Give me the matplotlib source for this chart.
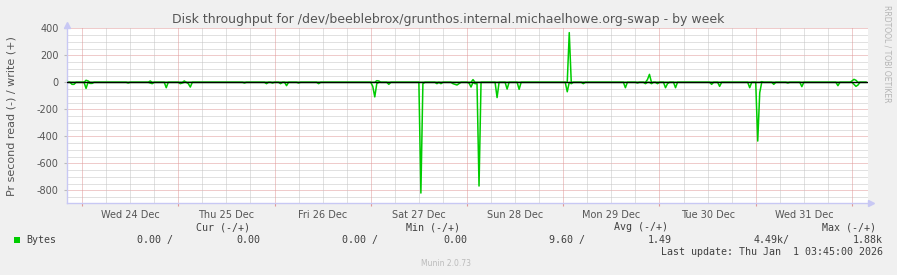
import numpy as np
import pandas as pd
import matplotlib
matplotlib.use('Agg')
import matplotlib.pyplot as plt
import matplotlib.transforms as mtrans
from matplotlib.patches import Rectangle

# read side (plotted negative), 30 min samples, bytes/s
read_times = ['2025-12-23 21:30', '2025-12-23 22:00',
              '2025-12-24 01:00', '2025-12-24 02:00', '2025-12-24 02:30', '2025-12-24 11:30',
              '2025-12-24 17:00', '2025-12-24 17:30', '2025-12-24 21:00',
              '2025-12-25 00:30', '2025-12-25 01:00', '2025-12-25 02:30', '2025-12-25 03:00',
              '2025-12-25 16:30', '2025-12-25 22:00', '2025-12-25 23:30',
              '2025-12-26 01:30', '2025-12-26 03:00', '2025-12-26 06:00', '2025-12-26 11:00',
              '2025-12-27 00:30', '2025-12-27 01:00', '2025-12-27 01:30', '2025-12-27 04:30',
              '2025-12-27 12:30', '2025-12-27 13:00', '2025-12-27 16:30', '2025-12-27 17:30',
              '2025-12-27 20:30', '2025-12-27 21:00', '2025-12-27 21:30', '2025-12-27 22:00',
              '2025-12-28 00:30', '2025-12-28 01:00', '2025-12-28 02:00', '2025-12-28 02:30',
              '2025-12-28 03:00', '2025-12-28 07:30', '2025-12-28 10:00', '2025-12-28 13:00',
              '2025-12-29 01:00', '2025-12-29 02:00', '2025-12-29 05:00', '2025-12-29 15:30',
              '2025-12-29 18:30', '2025-12-29 20:30', '2025-12-29 22:00', '2025-12-29 23:30',
              '2025-12-30 01:30', '2025-12-30 02:00', '2025-12-30 04:00', '2025-12-30 13:00',
              '2025-12-30 15:00', '2025-12-30 22:30',
              '2025-12-31 00:30', '2025-12-31 01:00', '2025-12-31 04:30', '2025-12-31 08:00',
              '2025-12-31 11:30', '2025-12-31 20:30',
              '2026-01-01 00:30', '2026-01-01 01:00', '2026-01-01 01:30']
read_vals = [15, 15,
             45, 8, 8, 5,
             5, 10, 40,
             10, 5, 10, 35,
             5, 10, 5,
             10, 25, 5, 10,
             30, 108, 10, 15,
             820, 10, 10, 10,
             10, 15, 20, 10,
             5, 35, 10, 10,
             768, 113, 50, 52,
             70, 10, 10, 40,
             5, 10, 10, 10,
             40, 10, 40, 15,
             30, 40,
             435, 77, 15, 5,
             32, 25,
             15, 30, 20]

# write side (plotted positive)
write_times = ['2025-12-24 01:00', '2025-12-24 01:30', '2025-12-24 17:00', '2025-12-25 01:30',
               '2025-12-27 01:30', '2025-12-27 02:00', '2025-12-28 01:30', '2025-12-29 01:30',
               '2025-12-29 21:00', '2025-12-29 21:30', '2025-12-31 01:30',
               '2026-01-01 00:00', '2026-01-01 00:30', '2026-01-01 01:00']
write_vals = [15, 10, 10, 10,
              12, 10, 20, 368,
              20, 59, 5,
              10, 22, 15]

day_labels = ['Wed 24 Dec', 'Thu 25 Dec', 'Fri 26 Dec', 'Sat 27 Dec',
              'Sun 28 Dec', 'Mon 29 Dec', 'Tue 30 Dec', 'Wed 31 Dec']
y_ticks = [400, 200, 0, -200, -400, -600, -800]
legend_heads = ['Cur (-/+)', 'Min (-/+)', 'Avg (-/+)', 'Max (-/+)']
legend_vals = ['0.00 /', '0.00', '0.00 /', '0.00', '9.60 /', '1.49', '4.49k/', '1.88k']

idx = pd.date_range('2025-12-23 20:30', '2026-01-01 03:30', freq='30min')
rd = pd.Series(0.0, index=idx)
rd.loc[pd.to_datetime(read_times)] = read_vals
wr = pd.Series(0.0, index=idx)
wr.loc[pd.to_datetime(write_times)] = write_vals

W, H = 897, 275
fig = plt.figure(figsize=(W / 100, H / 100), dpi=100, facecolor='#f0f0f0')
ax = fig.add_axes([67 / W, 1 - 203.3 / H, (868 - 67) / W, (203.3 - 28.3) / H])
ax.set_facecolor('white')

t0 = pd.Timestamp('2025-12-23 20:15')
t1 = pd.Timestamp('2026-01-01 04:00')
ax.set_xlim(t0, t1)
ax.set_ylim(-896, 400)

# grid, drawn by hand (munin style dotted)
dot = (0, (1, 1))
for v in range(-850, 401, 50):
    c = '#e09898' if v % 200 == 0 else '#c4c4c4'
    ax.axhline(v, color=c, lw=0.72, ls=dot, zorder=1)
for t in pd.date_range('2025-12-24', '2026-01-01', freq='6h'):
    c = '#e09898' if t.hour == 0 else '#c4c4c4'
    ax.axvline(t, color=c, lw=0.72, ls=dot, zorder=1)

ax.plot(idx, -rd.values, color='#00cc00', lw=1.1, zorder=2)
ax.plot(idx, wr.values, color='#00cc00', lw=1.1, zorder=2)
ax.axhline(0, color='black', lw=1, zorder=3)

for s in ['top', 'right']:
    ax.spines[s].set_visible(False)
for s in ['left', 'bottom']:
    ax.spines[s].set_color('#c8c8f4')
    ax.spines[s].set_linewidth(1)

# little arrows at axis ends
tr = mtrans.offset_copy(ax.transAxes, fig=fig, x=0, y=3, units='dots')
ax.plot([0], [1], marker='^', ms=5, color='#c8c8f4', transform=tr, clip_on=False)
tr = mtrans.offset_copy(ax.transAxes, fig=fig, x=3, y=0, units='dots')
ax.plot([1], [0], marker='>', ms=5, color='#c8c8f4', transform=tr, clip_on=False)

midn = pd.date_range('2025-12-24', '2026-01-01', freq='D')
noon = pd.date_range('2025-12-24 12:00', '2025-12-31 12:00', freq='D')
ax.set_xticks(midn)
ax.set_xticklabels([''] * len(midn))
ax.tick_params(axis='x', which='major', length=2.5, color='#e09898', width=0.8)
ax.set_xticks(noon, minor=True)
ax.set_xticklabels(day_labels, minor=True)
ax.tick_params(axis='x', which='minor', length=0, pad=5, labelsize=7, labelcolor='#555555')

ax.set_yticks(y_ticks)
ax.set_yticklabels([str(v) for v in y_ticks])
ax.tick_params(axis='y', length=2, color='#bbbbbb', pad=4, labelsize=7, labelcolor='#555555')

fig.text(0.5, 1 - 19 / H, 'Disk throughput for /dev/beeblebrox/grunthos.internal.michaelhowe.org-swap - by week',
         ha='center', va='center', fontsize=9, color='#555555')
fig.text(12 / W, 1 - 116 / H, 'Pr second read (-) / write (+)', rotation=90,
         ha='center', va='center', fontsize=8, color='#555555')
fig.text(887 / W, 1 - 5 / H, 'RRDTOOL / TOBI OETIKER', rotation=-90,
         ha='center', va='top', fontsize=5.5, color='#b4b4b4')

# legend block
mono = dict(family='DejaVu Sans Mono', fontsize=7.2, color='#404040')
for lab, xr in zip(legend_heads, [250, 460, 668, 876]):
    fig.text(xr / W, 1 - 227.5 / H, lab, ha='right', va='center', **mono)
fig.patches.append(Rectangle((14 / W, 1 - 243 / H), 6 / W, 6 / H, transform=fig.transFigure,
                             facecolor='#00cc00', edgecolor='none'))
fig.text(26 / W, 1 - 240 / H, 'Bytes', ha='left', va='center', **mono)
for lab, xr in zip(legend_vals, [173, 260, 378, 467, 585, 672, 790, 883]):
    fig.text(xr / W, 1 - 240 / H, lab, ha='right', va='center', **mono)
fig.text(883 / W, 1 - 251.7 / H, 'Last update: Thu Jan  1 03:45:00 2026', ha='right', va='center', **mono)
fig.text(446 / W, 1 - 264 / H, 'Munin 2.0.73', ha='center', va='center', fontsize=5.5, color='#bbbbbb')

fig.savefig('out.png', dpi=100, facecolor=fig.get_facecolor())
